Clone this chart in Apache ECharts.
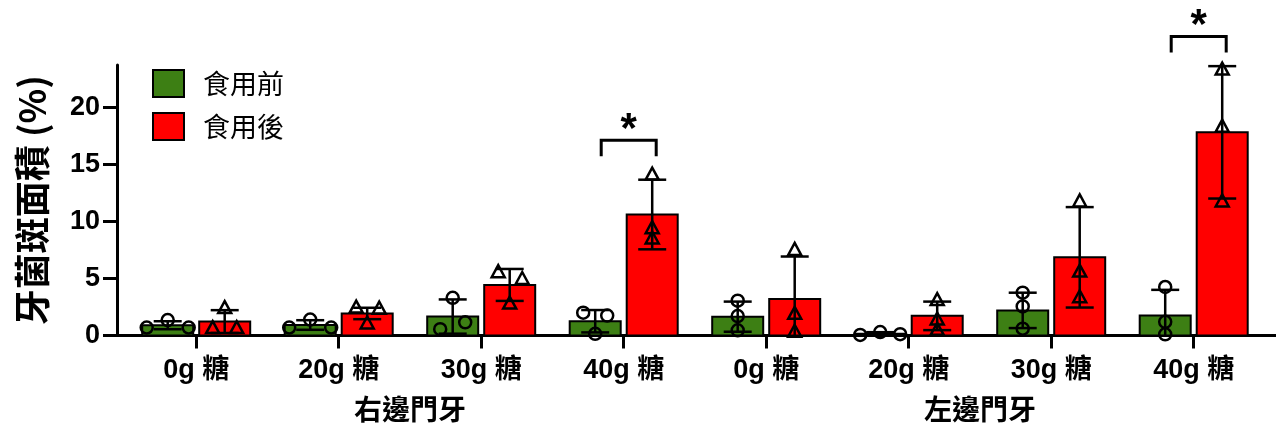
<!DOCTYPE html>
<html><head><meta charset="utf-8">
<script src="https://cdn.jsdelivr.net/npm/echarts@6/dist/echarts.min.js"></script>
<style>html,body{margin:0;padding:0;background:#fff}#c{width:1276px;height:427px}</style>
</head><body><div id="c"></div>
<script>
// ---- data ----
const categories = ['0g 糖','20g 糖','30g 糖','40g 糖','0g 糖','20g 糖','30g 糖','40g 糖'];
const groupLabels = ['右邊門牙','左邊門牙'];
const seriesNames = ['食用前','食用後'];
const beforeMean = [0.9, 0.92, 1.66, 1.25, 1.65, 0.16, 2.2, 1.75];
const beforeSD   = [0.35, 0.42, 1.5, 0.98, 1.32, 0.13, 1.55, 2.25];
const beforePts  = [[0.7,1.35,0.7],[0.7,1.4,0.7],[0.55,3.3,1.15],[2.0,1.75,0.15],[3.05,1.7,0.45],[0.05,0.3,0.12],[3.75,2.55,0.6],[4.25,1.2,0.1]];
const afterMean  = [1.22, 1.93, 4.43, 10.6, 3.2, 1.72, 6.85, 17.8];
const afterSD    = [1.0, 0.5, 1.4, 3.05, 3.72, 1.25, 4.4, 5.8];
const afterPts   = [[0.65,2.4,0.65],[2.45,2.35,1.05],[5.55,4.95,2.8],[14.1,9.4,8.5],[7.5,1.9,0.33],[3.1,1.4,0.5],[11.75,5.6,3.35],[23.3,18.3,11.75]];
const yTicks = [0, 5, 10, 15, 20];
const sigCats = [3, 7];
const sigTop  = [17.1, 26.2];
const sigLeg  = [15.7, 24.8];
const sigMark = ['*', '*'];

// ---- layout / style (pixels) ----
const beforeJitter = [[-21,0,21],[-21,0,21],[-12.5,0,12.5],[-12,12,0],[0,0,0],[-20,0,20],[0,0,0],[0,0,0]];
const afterJitter  = [[-12,0,12],[-11,12,0],[-11.5,12.5,0],[0,0,0],[0,0,0],[0,0,0],[0,0,0],[0,0,0]];
const HALF = 28.5;        // bar centre offset from group centre
const BAR_W = 51;
const CAP = 14;           // half cap width
const X_MIN = -0.5558, X_MAX = 7.5775;
const GREEN = '#3d7f14', RED = '#ff0000';
const latin = '"Liberation Sans", "Noto Sans CJK TC", sans-serif';
const cjk = '"Noto Sans CJK TC", sans-serif';

function barRender(side, color) {
  return function (params, api) {
    const i = api.value(0);
    const p0 = api.coord([i, 0]);
    const p1 = api.coord([i, api.value(1)]);
    const cx = p0[0] + side * HALF;
    return { type: 'rect', shape: { x: cx - BAR_W / 2, y: p1[1], width: BAR_W, height: p0[1] - p1[1] },
      style: { fill: color, stroke: '#000', lineWidth: 2 } };
  };
}

function errRender(side, shape, jitter) {
  return function (params, api) {
    const i = api.value(0), mean = api.value(1), sd = api.value(2);
    const cx = api.coord([i, 0])[0] + side * HALF;
    const yHi = api.coord([i, mean + sd])[1];
    const loVal = mean - sd;
    const yLo = api.coord([i, Math.max(0, loVal)])[1];
    const st = { stroke: '#000', lineWidth: 2.5, fill: 'none' };
    const ch = [
      { type: 'line', shape: { x1: cx, y1: yHi, x2: cx, y2: yLo }, style: st },
      { type: 'line', shape: { x1: cx - CAP, y1: yHi, x2: cx + CAP, y2: yHi }, style: st }
    ];
    if (loVal > 0) ch.push({ type: 'line', shape: { x1: cx - CAP, y1: yLo, x2: cx + CAP, y2: yLo }, style: st });
    for (let k = 0; k < 3; k++) {
      const px = cx + jitter[params.dataIndex][k];
      const py = api.coord([i, api.value(3 + k)])[1];
      if (shape === 'circle') {
        ch.push({ type: 'circle', shape: { cx: px, cy: py, r: 6 }, style: st });
      } else {
        ch.push({ type: 'polygon', shape: { points: [[px, py - 7], [px + 6.5, py + 5], [px - 6.5, py + 5]] }, style: st });
      }
    }
    return { type: 'group', children: ch };
  };
}

const chart = echarts.init(document.getElementById('c'), null, { renderer: 'canvas' });
const idx = categories.map((_, i) => i);
chart.setOption({
  animation: false,
  backgroundColor: '#fff',
  grid: { left: 117, right: 0, top: 65, bottom: 91.5, containLabel: false, outerBoundsMode: 'none' },
  legend: {
    data: [
      { name: seriesNames[0], itemStyle: { color: GREEN, borderColor: '#000', borderWidth: 2 } },
      { name: seriesNames[1], itemStyle: { color: RED, borderColor: '#000', borderWidth: 2 } }
    ],
    orient: 'vertical', left: 152, top: 69, padding: 0,
    itemWidth: 31, itemHeight: 27, itemGap: 14, icon: 'rect',
    formatter: n => '{t|' + n + '}',
    textStyle: { fontSize: 27, fontFamily: cjk, color: '#000',
      rich: { t: { fontSize: 27, fontFamily: cjk, color: '#000', padding: [0, 0, 0, 14] } } }
  },
  xAxis: [
    {
      type: 'value', min: X_MIN, max: X_MAX, position: 'bottom',
      axisLine: { show: true, onZero: false, lineStyle: { color: '#000', width: 3 } },
      axisTick: { show: true, length: 13, lineStyle: { color: '#000', width: 3 }, customValues: idx },
      axisLabel: { customValues: idx, formatter: v => categories[Math.round(v)], color: '#000',
        fontSize: 27, fontWeight: 'bold', fontFamily: latin, margin: 22 },
      splitLine: { show: false }
    },
    {
      type: 'value', min: X_MIN, max: X_MAX, position: 'bottom',
      axisLine: { show: false }, axisTick: { show: false }, splitLine: { show: false },
      axisLabel: { customValues: [1.5, 5.5], formatter: v => groupLabels[Math.round((v - 1.5) / 4)],
        color: '#000', fontSize: 28, fontWeight: 'bold', fontFamily: cjk, margin: 60 }
    }
  ],
  yAxis: {
    type: 'value', min: 0, max: 23.7,
    name: '牙菌斑面積 (%)', nameLocation: 'middle', nameGap: 67, nameRotate: 90,
    nameTextStyle: { fontSize: 36, fontWeight: 'bold', fontFamily: cjk, color: '#000' },
    axisLine: { show: true, onZero: false, lineStyle: { color: '#000', width: 3 } },
    axisTick: { show: true, length: 14, lineStyle: { color: '#000', width: 3 }, customValues: yTicks },
    axisLabel: { customValues: yTicks, color: '#000', fontSize: 27, fontWeight: 'bold', fontFamily: latin, margin: 17 },
    splitLine: { show: false }
  },
  series: [
    { name: seriesNames[0], type: 'custom', xAxisIndex: 0, z: 2,
      itemStyle: { color: GREEN, borderColor: '#000', borderWidth: 2 },
      renderItem: barRender(-1, GREEN),
      data: beforeMean.map((v, i) => [i, v]) },
    { name: seriesNames[1], type: 'custom', xAxisIndex: 0, z: 2,
      itemStyle: { color: RED, borderColor: '#000', borderWidth: 2 },
      renderItem: barRender(1, RED),
      data: afterMean.map((v, i) => [i, v]) },
    { name: 'errBefore', type: 'custom', xAxisIndex: 0, clip: false, z: 5,
      renderItem: errRender(-1, 'circle', beforeJitter),
      data: beforeMean.map((m, i) => [i, m, beforeSD[i]].concat(beforePts[i])) },
    { name: 'errAfter', type: 'custom', xAxisIndex: 0, clip: false, z: 5,
      renderItem: errRender(1, 'triangle', afterJitter),
      data: afterMean.map((m, i) => [i, m, afterSD[i]].concat(afterPts[i])) },
    { name: 'sig', type: 'custom', xAxisIndex: 0, clip: false, z: 6,
      renderItem: function (params, api) {
        const c = api.value(0);
        const x0 = api.coord([c, 0])[0];
        const yT = api.coord([c, api.value(1)])[1];
        const yL = api.coord([c, api.value(2)])[1];
        return { type: 'group', children: [
          { type: 'polyline', shape: { points: [[x0 - 22.5, yL], [x0 - 22.5, yT], [x0 + 32.5, yT], [x0 + 32.5, yL]] },
            style: { stroke: '#000', lineWidth: 3, fill: 'none' } },
          { type: 'text', style: { text: sigMark[params.dataIndex], x: x0 + 5, y: yT - 10,
            font: 'bold 42px "Liberation Sans", sans-serif', fill: '#000',
            align: 'center', verticalAlign: 'middle', textAlign: 'center', textVerticalAlign: 'middle' } }
        ] };
      },
      data: sigCats.map((c, i) => [c, sigTop[i], sigLeg[i]]) }
  ]
});
</script></body></html>
